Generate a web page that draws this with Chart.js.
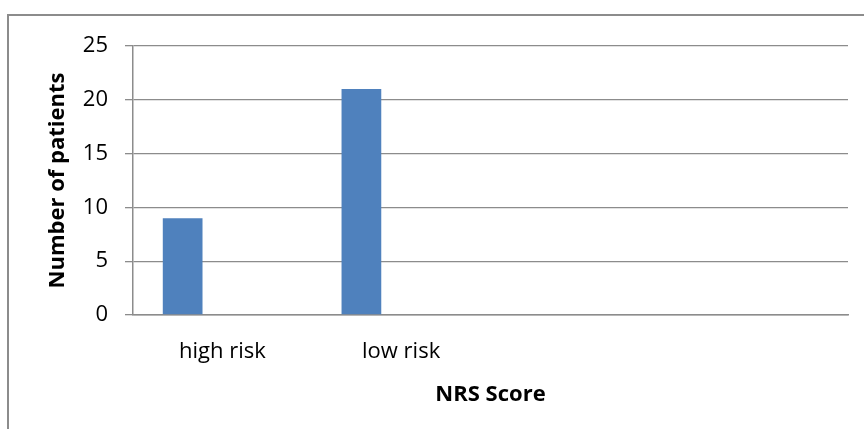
<!DOCTYPE html>
<html>
<head>
<meta charset="utf-8">
<script src="https://cdn.jsdelivr.net/npm/chart.js@4.4.1/dist/chart.umd.min.js"></script>
<style>
  html, body { margin: 0; padding: 0; background: #ffffff; overflow: hidden; }
  #wrap { position: relative; width: 864px; height: 429px; }
  #frame {
    position: absolute; left: 7px; top: 14px; width: 1000px; height: 1000px;
    border-left: 2px solid #8c8c8c; border-top: 2px solid #8c8c8c;
    box-sizing: border-box; pointer-events: none;
  }
  canvas { position: absolute; left: 0; top: 0; }
</style>
</head>
<body>
<div id="wrap">
  <canvas id="chart" width="864" height="429"></canvas>
  <div id="frame"></div>
</div>
<script>
// Risk groups on the category axis (last two slots are empty)
const categories = ['high risk', 'low risk', '', ''];
// Patients per group; series 2 and 3 hold no values
const series1 = [9, 21, null, null];
const series2 = [null, null, null, null];
const series3 = [null, null, null, null];
// Value axis ticks
const yTicks = [0, 5, 10, 15, 20, 25];

const xTitle = 'NRS Score';
const yTitle = 'Number of patients';

const axisGray = '#8c8c8c';
const barBlue = '#4F81BD';
const tickFont = { family: "'Open Sans', sans-serif", size: 22 };
const titleFont = { family: "'Open Sans', sans-serif", size: 22, weight: 'bold' };

new Chart(document.getElementById('chart'), {
  type: 'bar',
  data: {
    labels: categories,
    datasets: [
      { label: 'Series1', data: series1, backgroundColor: barBlue },
      { label: 'Series2', data: series2, backgroundColor: '#C0504D' },
      { label: 'Series3', data: series3, backgroundColor: '#9BBB59' }
    ]
  },
  options: {
    responsive: false,
    animation: false,
    devicePixelRatio: 1,
    layout: { padding: { left: 0, right: 16, top: 46, bottom: 0 } },
    datasets: { bar: { categoryPercentage: 2 / 3, barPercentage: 1 } },
    plugins: { legend: { display: false }, tooltip: { enabled: false } },
    scales: {
      x: {
        grid: { display: false, drawTicks: false },
        border: { display: true, color: axisGray, width: 1.5 },
        ticks: { color: '#000', font: tickFont, padding: 24, maxRotation: 0 },
        title: { display: true, text: xTitle, color: '#000', font: titleFont, padding: { top: 0, bottom: 21 } },
        afterFit: (s) => { s.height = 114; }
      },
      y: {
        min: yTicks[0],
        max: yTicks[yTicks.length - 1],
        afterBuildTicks: (s) => { s.ticks = yTicks.map(v => ({ value: v })); },
        grid: { color: axisGray, lineWidth: 1.3, tickLength: 8 },
        border: { display: true, color: axisGray, width: 1.5 },
        ticks: { color: '#000', font: tickFont, padding: 17 },
        title: { display: true, text: yTitle, color: '#000', font: titleFont, padding: { top: 45, bottom: 0 } },
        afterFit: (s) => { s.width = 133; }
      }
    }
  }
});
</script>
</body>
</html>
